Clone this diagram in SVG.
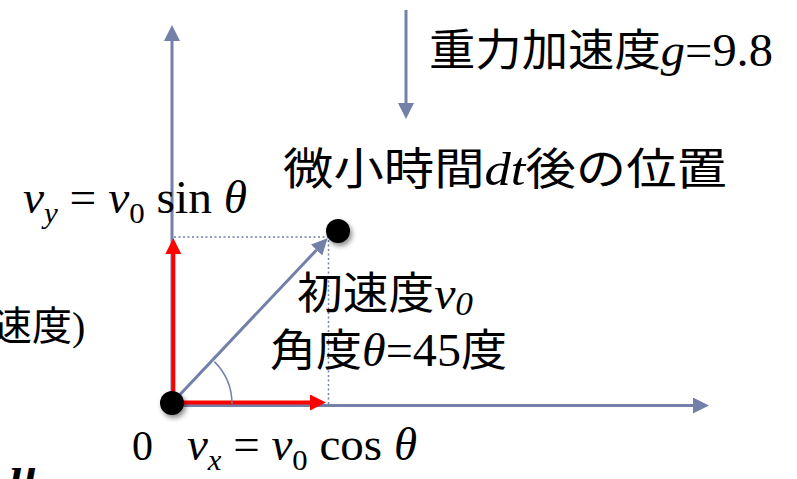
<svg xmlns="http://www.w3.org/2000/svg" width="797" height="479" viewBox="0 0 797 479">
  <style>
    .t { font-family: "Liberation Serif", serif; fill: #000; }
    .jp { font-family: "Noto Sans CJK JP", sans-serif; fill: #000; }
    .r { font-family: "Liberation Serif", serif; }
    .i { font-family: "Liberation Serif", serif; font-style: italic; }
    .axis { stroke: #7380A8; stroke-width: 3; fill: none; }
    .dot { stroke: #7380A8; stroke-width: 1.5; stroke-dasharray: 2 2.5; fill: none; }
    .red { stroke: #FF0000; stroke-width: 4; fill: none; }
    .arc { stroke: #7380A8; stroke-width: 1.5; fill: none; }
  </style>
  <defs>
    <marker id="ab" markerUnits="userSpaceOnUse" markerWidth="16" markerHeight="16" viewBox="0 0 16 16" refX="0" refY="8" orient="auto">
      <path d="M0,0 L16,8 L0,16 z" fill="#7380A8"/>
    </marker>
    <marker id="ar" markerUnits="userSpaceOnUse" markerWidth="16" markerHeight="16" viewBox="0 0 16 16" refX="0" refY="8" orient="auto">
      <path d="M0,0 L16,8 L0,16 z" fill="#FF0000"/>
    </marker>
    <filter id="sh" x="-50%" y="-50%" width="200%" height="200%">
      <feDropShadow dx="2" dy="3" stdDeviation="2.5" flood-color="#000" flood-opacity="0.45"/>
    </filter>
  </defs>

  <g id="connectors">
    <line id="y-axis" class="axis" x1="172" y1="404" x2="172" y2="41" marker-end="url(#ab)"/>
    <line id="x-axis" class="axis" x1="172" y1="405.5" x2="693" y2="405.5" marker-end="url(#ab)"/>
    <line id="gravity" class="axis" stroke-width="2.5" x1="406" y1="10" x2="406" y2="103" marker-end="url(#ab)"/>
    <line id="v0" class="axis" x1="172" y1="403" x2="316.5" y2="250" marker-end="url(#ab)"/>
    <line id="dot-h" class="dot" x1="174" y1="237" x2="329" y2="237"/>
    <line id="dot-v" class="dot" x1="328.5" y1="240" x2="328.5" y2="405"/>
    <line id="vy" class="red" x1="173.3" y1="403" x2="173.3" y2="254" marker-end="url(#ar)"/>
    <line id="vx" class="red" x1="172" y1="402.5" x2="310" y2="402.5" marker-end="url(#ar)"/>
    <path id="angle" class="arc" d="M232,404 A60,60 0 0 0 214.4,361.6"/>
  </g>

  <g id="origin">
    <circle cx="172" cy="403" r="12" fill="#000" filter="url(#sh)"/>
    <text class="t" x="132" y="460" font-size="42">0</text>
  </g>

  <g id="position">
    <circle cx="338" cy="231" r="12" fill="#000" filter="url(#sh)"/>
  </g>

  <g id="labels">
    <text class="jp" x="429" y="66" font-size="44" textLength="344" lengthAdjust="spacingAndGlyphs">重力加速度<tspan class="i" font-size="46">g</tspan><tspan class="r" font-size="46">=9.8</tspan></text>
    <text class="jp" x="283" y="185" font-size="44" textLength="444" lengthAdjust="spacingAndGlyphs">微小時間<tspan class="i" font-size="46">dt</tspan>後の位置</text>
    <text class="t" x="23" y="213" font-size="46" textLength="224" lengthAdjust="spacingAndGlyphs"><tspan class="i">v</tspan><tspan font-size="30" dy="10" class="i">y</tspan><tspan dy="-10"> = </tspan><tspan class="i">v</tspan><tspan font-size="30" dy="10">0</tspan><tspan dy="-10"> sin </tspan><tspan class="i">θ</tspan></text>
    <text class="jp" x="297" y="309" font-size="44" textLength="176" lengthAdjust="spacingAndGlyphs">初速度<tspan class="i" font-size="46">v</tspan><tspan class="i" font-size="34" dy="6">0</tspan></text>
    <text class="jp" x="270" y="366" font-size="44" textLength="237" lengthAdjust="spacingAndGlyphs">角度<tspan class="i" font-size="46">θ</tspan><tspan class="r" font-size="46">=45</tspan>度</text>
    <text class="t" x="187" y="460" font-size="46" textLength="230" lengthAdjust="spacingAndGlyphs"><tspan class="i">v</tspan><tspan font-size="30" dy="10" class="i">x</tspan><tspan dy="-10"> = </tspan><tspan class="i">v</tspan><tspan font-size="30" dy="10">0</tspan><tspan dy="-10"> cos </tspan><tspan class="i">θ</tspan></text>
    <text class="jp" x="-8" y="340" font-size="40">速度<tspan class="r">)</tspan></text>
    <text class="t i" x="10" y="490" font-size="48" font-weight="bold">u</text>
  </g>
</svg>
